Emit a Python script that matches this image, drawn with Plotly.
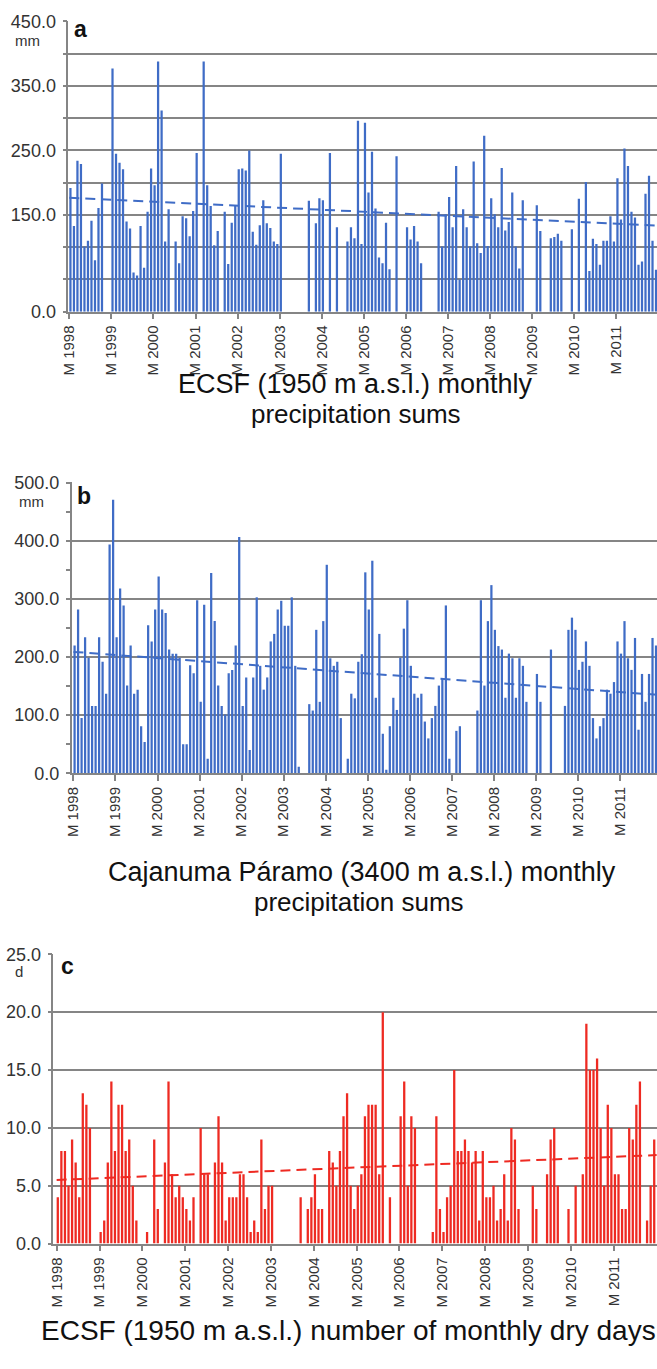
import plotly.graph_objects as go

# ---------------- data ----------------
years = list(range(1998, 2012))
months = list(range(len(years) * 12))          # month index, Jan 1998 = 0
tick_pos = [12 * i for i in range(len(years))]
tick_labels = [f"M {y}" for y in years]

# a: ECSF monthly precipitation sums (mm)
a_vals = [192, 133, 234, 229, 101, 110, 141, 80, 161, 199, None, None,
          377, 245, 231, 221, 140, 129, 61, 56, 133, 68, 155, 222,
          196, 388, 312, 109, 159, None, 109, 75, 148, 145, 117, 156,
          246, None, 388, 196, 164, 103, 125, None, 155, 74, 138, 165,
          221, 222, 219, 250, 124, 104, 134, 173, 137, 130, 109, 105,
          245, None, None, None, None, None, None, None, 172, None, 137, 176,
          173, None, 246, None, 131, None, None, 109, 131, 114, 296, 105,
          293, 185, 248, 160, 84, 75, 138, 66, None, 241, None, None,
          131, 112, 133, 109, 75, None, None, None, None, 155, 101, 151,
          178, 131, 226, 50, 159, 131, 101, 233, 106, 91, 273, 102,
          176, 151, 131, 223, 126, 139, 185, 101, 67, 173, None, None,
          None, 165, 125, None, None, 114, 116, 121, 110, None, None, 128,
          None, 175, None, 201, 63, 113, 105, 73, 110, 110, 148, 109,
          207, 143, 253, 226, 155, 146, 73, 78, 183, 211, 110, 65]

# b: Cajanuma Paramo monthly precipitation sums (mm)
b_vals = [220, 282, 95, 234, 199, 116, 116, 234, 192, 137, 394, 471,
          234, 318, 289, 151, 220, 137, 144, 81, 54, 255, 227, 282,
          339, 282, 276, 213, 206, 206, 199, 50, 50, 186, 172, 298,
          123, 290, 25, 345, 262, 151, 116, 101, 172, 178, 220, 407,
          116, 165, 40, 165, 303, 185, 144, 165, 227, 240, 282, 297,
          254, 254, 303, 185, 11, None, None, 119, 108, 247, 123, 262,
          359, 198, 185, 192, 95, None, 25, 137, 129, 192, 205, 346,
          282, 366, 130, 240, 68, 6, 81, 130, 109, 199, 249, 298,
          185, 137, 130, 137, 89, 60, 95, 116, 151, 164, 289, 25,
          None, 73, 81, None, None, None, None, 108, 298, 151, 262, 324,
          247, 219, 213, 130, 206, 198, 130, 198, 185, 123, None, None,
          171, 123, None, None, 213, None, None, None, 116, 247, 268, 247,
          178, 192, 227, 185, 95, 60, 81, 95, 144, 137, 157, 227,
          206, 262, 198, 178, 233, 75, 171, 123, 171, 233, 220, 215]

# c: ECSF number of monthly dry days (d)
c_vals = [4, 8, 8, 5, 9, 7, 4, 13, 12, 10, None, None,
          1, 2, 7, 14, 8, 12, 12, 8, 9, 5, 2, None,
          None, 1, None, 9, 3, None, 7, 14, 6, 4, 5, 4,
          3, 2, 4, None, 10, 6, 6, None, 7, 11, 7, 2,
          4, 4, 4, 6, 6, 4, 1, 2, 1, 9, 3, 5,
          5, None, None, None, None, None, None, None, 4, None, 3, 4,
          6, 3, 3, None, 8, 7, 5, 8, 11, 13, 5, 3,
          5, 6, 11, 12, 12, 12, 6, 20, None, 4, None, None,
          11, 14, 5, 11, 10, None, None, None, None, 1, 11, 3,
          1, 4, 5, 15, 8, 8, 9, 8, 7, 8, 2, 8,
          4, 4, 5, 2, 3, 6, 2, 10, 9, 3, None, None,
          None, 5, 3, None, None, 6, 9, 10, 5, None, None, 3,
          None, 5, None, 6, 19, 15, 15, 16, 10, 5, 12, 10,
          6, 6, 3, 3, 10, 9, 12, 14, None, 2, 5, 9]

# linear trend end points (start month, end month)
trend_months = [0, 168]
a_trend = [176.6, 133.5]
b_trend = [209.0, 134.5]
c_trend = [5.5, 7.65]

# y-axis ticks
a_ticks = [0, 50, 100, 150, 200, 250, 300, 350, 400, 450]
a_ticktext = ["0.0", "", "", "150.0", "", "250.0", "", "350.0", "", "450.0"]
b_ticks = [0, 100, 200, 300, 400, 500]
b_ticktext = ["0.0", "100.0", "200.0", "300.0", "400.0", "500.0"]
c_ticks = [0, 5, 10, 15, 20, 25]
c_ticktext = ["0.0", "5.0", "10.0", "15.0", "20.0", "25.0"]

# ---------------- style ----------------
FIG_W, FIG_H = 657, 1369
BLUE = "#3f6cc6"
RED = "#ee2a22"
GRID = "#858585"
TXT = "#333333"
FONT = "Liberation Sans, Arial, sans-serif"


def px_x(x):
    return x / FIG_W


def px_y(y):
    return 1 - y / FIG_H


panels = [
    dict(vals=a_vals, trend=a_trend, color=BLUE, left=61, top=12, bot=307,
         xr=[-0.3, 167.6], yr=[0, 451], tv=a_ticks, tt=a_ticktext, minor=None,
         letter="a", letter_xy=(65, 20), unit="mm", unit_xy=(20, 21),
         titles=[("ECSF (1950 m a.s.l.) monthly", 352, 380, 27),
                 ("precipitation sums", 352, 411, 26)]),
    dict(vals=b_vals, trend=b_trend, color=BLUE, left=64.5, top=480, bot=775,
         xr=[-0.5, 166.6], yr=[0, 501], tv=b_ticks, tt=b_ticktext, minor=50,
         letter="b", letter_xy=(68, 494), unit="mm", unit_xy=(24, 489),
         titles=[("Cajanuma Páramo (3400 m a.s.l.) monthly", 358, 875, 27),
                 ("precipitation sums", 355, 906, 26)]),
    dict(vals=c_vals, trend=c_trend, color=RED, left=46, top=958, bot=1252,
         xr=[-0.9, 168.1], yr=[0, 25.05], tv=c_ticks, tt=c_ticktext, minor=None,
         letter="c", letter_xy=(52, 970), unit="d", unit_xy=(11, 965),
         titles=[("ECSF (1950 m a.s.l.) number of monthly dry days", 345, 1340, 28)]),
]

fig = go.Figure()
layout = dict(
    width=FIG_W, height=FIG_H, margin=dict(l=0, r=0, t=0, b=0),
    paper_bgcolor="white", plot_bgcolor="white", showlegend=False,
    font=dict(family=FONT, color=TXT),
)
annotations = []

for k, p in enumerate(panels, start=1):
    xa = "x" if k == 1 else f"x{k}"
    ya = "y" if k == 1 else f"y{k}"
    fig.add_trace(go.Bar(
        x=months, y=p["vals"], offset=0, width=0.64,
        marker=dict(color=p["color"], line=dict(width=0)),
        xaxis=xa, yaxis=ya, hoverinfo="x+y"))
    fig.add_trace(go.Scatter(
        x=trend_months, y=p["trend"], mode="lines",
        line=dict(color=p["color"], width=2, dash="10px,6px"),
        xaxis=xa, yaxis=ya, hoverinfo="skip"))

    xkey = "xaxis" if k == 1 else f"xaxis{k}"
    ykey = "yaxis" if k == 1 else f"yaxis{k}"
    layout[xkey] = dict(
        domain=[px_x(p["left"]), 1], anchor=ya, range=p["xr"],
        tickmode="array", tickvals=tick_pos, ticktext=tick_labels,
        tickangle=-90, tickfont=dict(size=15, color=TXT, family=FONT),
        ticks="outside", ticklen=6, tickwidth=1.5, tickcolor=GRID,
        showline=True, linecolor=GRID, linewidth=1.5,
        showgrid=False, zeroline=False, fixedrange=True)
    ydict = dict(
        domain=[px_y(p["bot"]), px_y(p["top"])], anchor=xa, range=p["yr"],
        tickmode="array", tickvals=p["tv"], ticktext=p["tt"],
        tickfont=dict(size=18, color=TXT, family=FONT),
        ticks="outside", ticklen=4, tickwidth=1.5, tickcolor=GRID,
        ticklabelstandoff=3,
        showline=True, linecolor=GRID, linewidth=1.5,
        showgrid=True, gridcolor=GRID, gridwidth=1.5,
        zeroline=False, fixedrange=True)
    if p["minor"]:
        ydict["minor"] = dict(dtick=p["minor"], tick0=0, ticks="outside",
                              ticklen=4, tickcolor=GRID, showgrid=False)
    layout[ykey] = ydict

    # panel letter
    lx, ly = p["letter_xy"]
    annotations.append(dict(
        text=f"<b>{p['letter']}</b>", xref="paper", yref="paper",
        x=px_x(lx), y=px_y(ly), xanchor="left", yanchor="middle",
        showarrow=False, font=dict(size=23, color="#111111", family=FONT)))
    # unit
    ux, uy = p["unit_xy"]
    annotations.append(dict(
        text=p["unit"], xref="paper", yref="paper",
        x=px_x(ux), y=px_y(uy), xanchor="center", yanchor="top",
        showarrow=False, font=dict(size=15, color=TXT, family=FONT)))
    # titles
    for txt, cx, cy, fs in p["titles"]:
        annotations.append(dict(
            text=txt, xref="paper", yref="paper",
            x=px_x(cx), y=px_y(cy), xanchor="center", yanchor="middle",
            showarrow=False, font=dict(size=fs, color="#111111", family=FONT)))

layout["annotations"] = annotations
layout["bargap"] = 0.3
fig.update_layout(**layout)

fig.write_html("out.html")
